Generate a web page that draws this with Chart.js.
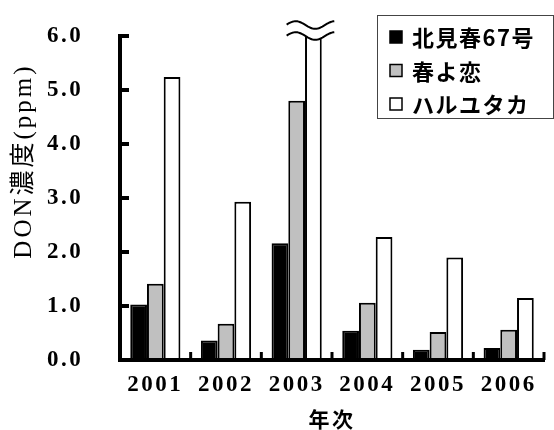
<!DOCTYPE html>
<html>
<head>
<meta charset="utf-8">
<script src="https://cdn.jsdelivr.net/npm/chart.js@4.4.1/dist/chart.umd.min.js"></script>
<style>
  html, body { margin: 0; padding: 0; background: #fff; }
  #wrap { width: 554px; height: 430px; position: relative; }
</style>
</head>
<body>
<div id="wrap"><canvas id="c" width="554" height="430"></canvas></div>
<script>
// DON concentration by cultivar and year
const years = ['2001', '2002', '2003', '2004', '2005', '2006'];
const seriesNames = ['北見春67号', '春よ恋', 'ハルユタカ'];
const kitamiHaru67 = [1.03, 0.36, 2.16, 0.54, 0.19, 0.22];
const haruYoKoi = [1.41, 0.67, 4.80, 1.06, 0.52, 0.56];
const haruYutaka = [5.24, 2.93, 6.05, 2.28, 1.90, 1.15];
const yTickValues = [0, 1, 2, 3, 4, 5, 6];
const yTitle = 'DON濃度(ppm)';
const xTitle = '年次';
// the bar that runs past the top of the axis and is drawn with a break mark
const brokenBar = { dataset: 2, index: 2 };

const fills = ['#000000', '#c0c0c0', '#ffffff'];
const tickFont = { family: "'Liberation Serif', serif", size: 23, weight: 'bold' };

const spacing = {
  id: 'spacing',
  beforeLayout(chart) { chart.ctx.letterSpacing = '2.5px'; },
  beforeDraw(chart) { chart.ctx.letterSpacing = '2.5px'; }
};

// axes with inward ticks, the axis break, the y title and the boxed legend
const decorations = {
  id: 'decorations',
  afterDatasetsDraw(chart) {
    const { ctx, chartArea: ca, scales: { x, y } } = chart;
    ctx.save();
    ctx.letterSpacing = '0px';

    // break mark on the tall bar
    const bar = chart.getDatasetMeta(brokenBar.dataset).data[brokenBar.index];
    const w = bar.width;
    const x0 = bar.x - 1.6 * w, x1 = bar.x + 1.25 * w;
    const yLow = y.getPixelForValue(6);
    const yUp = yLow - 11;
    const wave = (base, t) => base - 3.8 * Math.cos(2 * Math.PI * (t - 0.19) / 0.82);
    const N = 40;
    ctx.beginPath();
    for (let i = 0; i <= N; i++) {
      const t = i / N;
      const px = x0 + (x1 - x0) * t;
      i ? ctx.lineTo(px, wave(yUp, t)) : ctx.moveTo(px, wave(yUp, t));
    }
    for (let i = N; i >= 0; i--) {
      const t = i / N;
      ctx.lineTo(x0 + (x1 - x0) * t, wave(yLow, t));
    }
    ctx.closePath();
    ctx.fillStyle = '#fff';
    ctx.fill();
    ctx.strokeStyle = '#000';
    ctx.lineWidth = 2;
    [yUp, yLow].forEach(base => {
      ctx.beginPath();
      for (let i = 0; i <= N; i++) {
        const t = i / N;
        const px = x0 + (x1 - x0) * t;
        i ? ctx.lineTo(px, wave(base, t)) : ctx.moveTo(px, wave(base, t));
      }
      ctx.stroke();
    });

    // y axis and its inward ticks
    ctx.strokeStyle = '#000';
    ctx.lineWidth = 4;
    ctx.lineCap = 'butt';
    ctx.beginPath();
    ctx.moveTo(ca.left, y.getPixelForValue(6) - 2);
    ctx.lineTo(ca.left, ca.bottom + 2);
    ctx.stroke();
    yTickValues.forEach(v => {
      const py = y.getPixelForValue(v);
      ctx.beginPath();
      ctx.moveTo(ca.left, py);
      ctx.lineTo(ca.left + 9, py);
      ctx.stroke();
    });

    // x axis and category separators
    ctx.beginPath();
    ctx.moveTo(ca.left - 2, ca.bottom);
    ctx.lineTo(ca.right + 1, ca.bottom);
    ctx.stroke();
    ctx.lineWidth = 3;
    const half = (x.getPixelForValue(1) - x.getPixelForValue(0)) / 2;
    years.forEach((_, i) => {
      const px = x.getPixelForValue(i) + half;
      ctx.beginPath();
      ctx.moveTo(px, ca.bottom);
      ctx.lineTo(px, ca.bottom - 8);
      ctx.stroke();
    });

    ctx.restore();
  },
  afterDraw(chart) {
    const { ctx } = chart;
    ctx.save();

    // y axis title, rotated
    ctx.letterSpacing = '3px';
    ctx.translate(24, 161);
    ctx.rotate(-Math.PI / 2);
    ctx.font = "25px 'Liberation Serif', 'Noto Sans CJK JP', serif";
    ctx.fillStyle = '#000';
    ctx.textAlign = 'center';
    ctx.textBaseline = 'middle';
    ctx.fillText(yTitle, 0, 0);
    ctx.setTransform(1, 0, 0, 1, 0, 0);

    // legend box
    const bx = 377, by = 15, bw = 176, bh = 103;
    ctx.fillStyle = '#fff';
    ctx.fillRect(bx, by, bw, bh);
    ctx.strokeStyle = '#444';
    ctx.lineWidth = 1;
    ctx.strokeRect(bx + 0.5, by + 0.5, bw, bh);
    ctx.letterSpacing = '1.5px';
    ctx.font = "bold 22px 'Noto Sans CJK JP', sans-serif";
    ctx.textAlign = 'left';
    ctx.textBaseline = 'middle';
    chart.data.datasets.forEach((ds, i) => {
      const cy = by + 22 + i * 33.5;
      ctx.fillStyle = ds.backgroundColor;
      ctx.fillRect(390, cy - 6, 12, 12);
      ctx.strokeStyle = '#000';
      ctx.lineWidth = 1.5;
      ctx.strokeRect(390, cy - 6, 12, 12);
      ctx.fillStyle = '#000';
      ctx.fillText(ds.label, 412, cy + 1);
    });
    ctx.restore();
  }
};

new Chart(document.getElementById('c'), {
  type: 'bar',
  data: {
    labels: years,
    datasets: [kitamiHaru67, haruYoKoi, haruYutaka].map((values, i) => ({
      label: seriesNames[i],
      data: values,
      backgroundColor: fills[i],
      borderColor: '#000',
      borderWidth: 2,
      borderSkipped: ctx => (ctx.datasetIndex === brokenBar.dataset && ctx.dataIndex === brokenBar.index) ? 'top' : 'start',
      categoryPercentage: 0.71,
      barPercentage: 1.0,
      clip: false
    }))
  },
  options: {
    responsive: false,
    animation: false,
    devicePixelRatio: 1,
    layout: { padding: { left: 47, right: 10, top: 36, bottom: 0 } },
    plugins: { legend: { display: false }, tooltip: { enabled: false } },
    scales: {
      x: {
        grid: { display: false, drawTicks: false },
        border: { display: false },
        ticks: { font: tickFont, color: '#000', padding: 11, maxRotation: 0, autoSkip: false },
        title: {
          display: true, text: xTitle, color: '#000',
          font: { family: "'Noto Sans CJK JP', sans-serif", size: 21, weight: 'bold', lineHeight: 1 },
          padding: { top: 0, bottom: 0 }
        },
        afterFit(scale) { scale.height = 70; }
      },
      y: {
        min: 0, max: 6,
        grid: { display: false, drawTicks: false },
        border: { display: false },
        ticks: {
          stepSize: 1, font: tickFont, color: '#000', padding: 0, crossAlign: 'far',
          callback: v => Number(v).toFixed(1)
        },
        afterFit(scale) { scale.width = 73; }
      }
    }
  },
  plugins: [spacing, decorations]
});
</script>
</body>
</html>
